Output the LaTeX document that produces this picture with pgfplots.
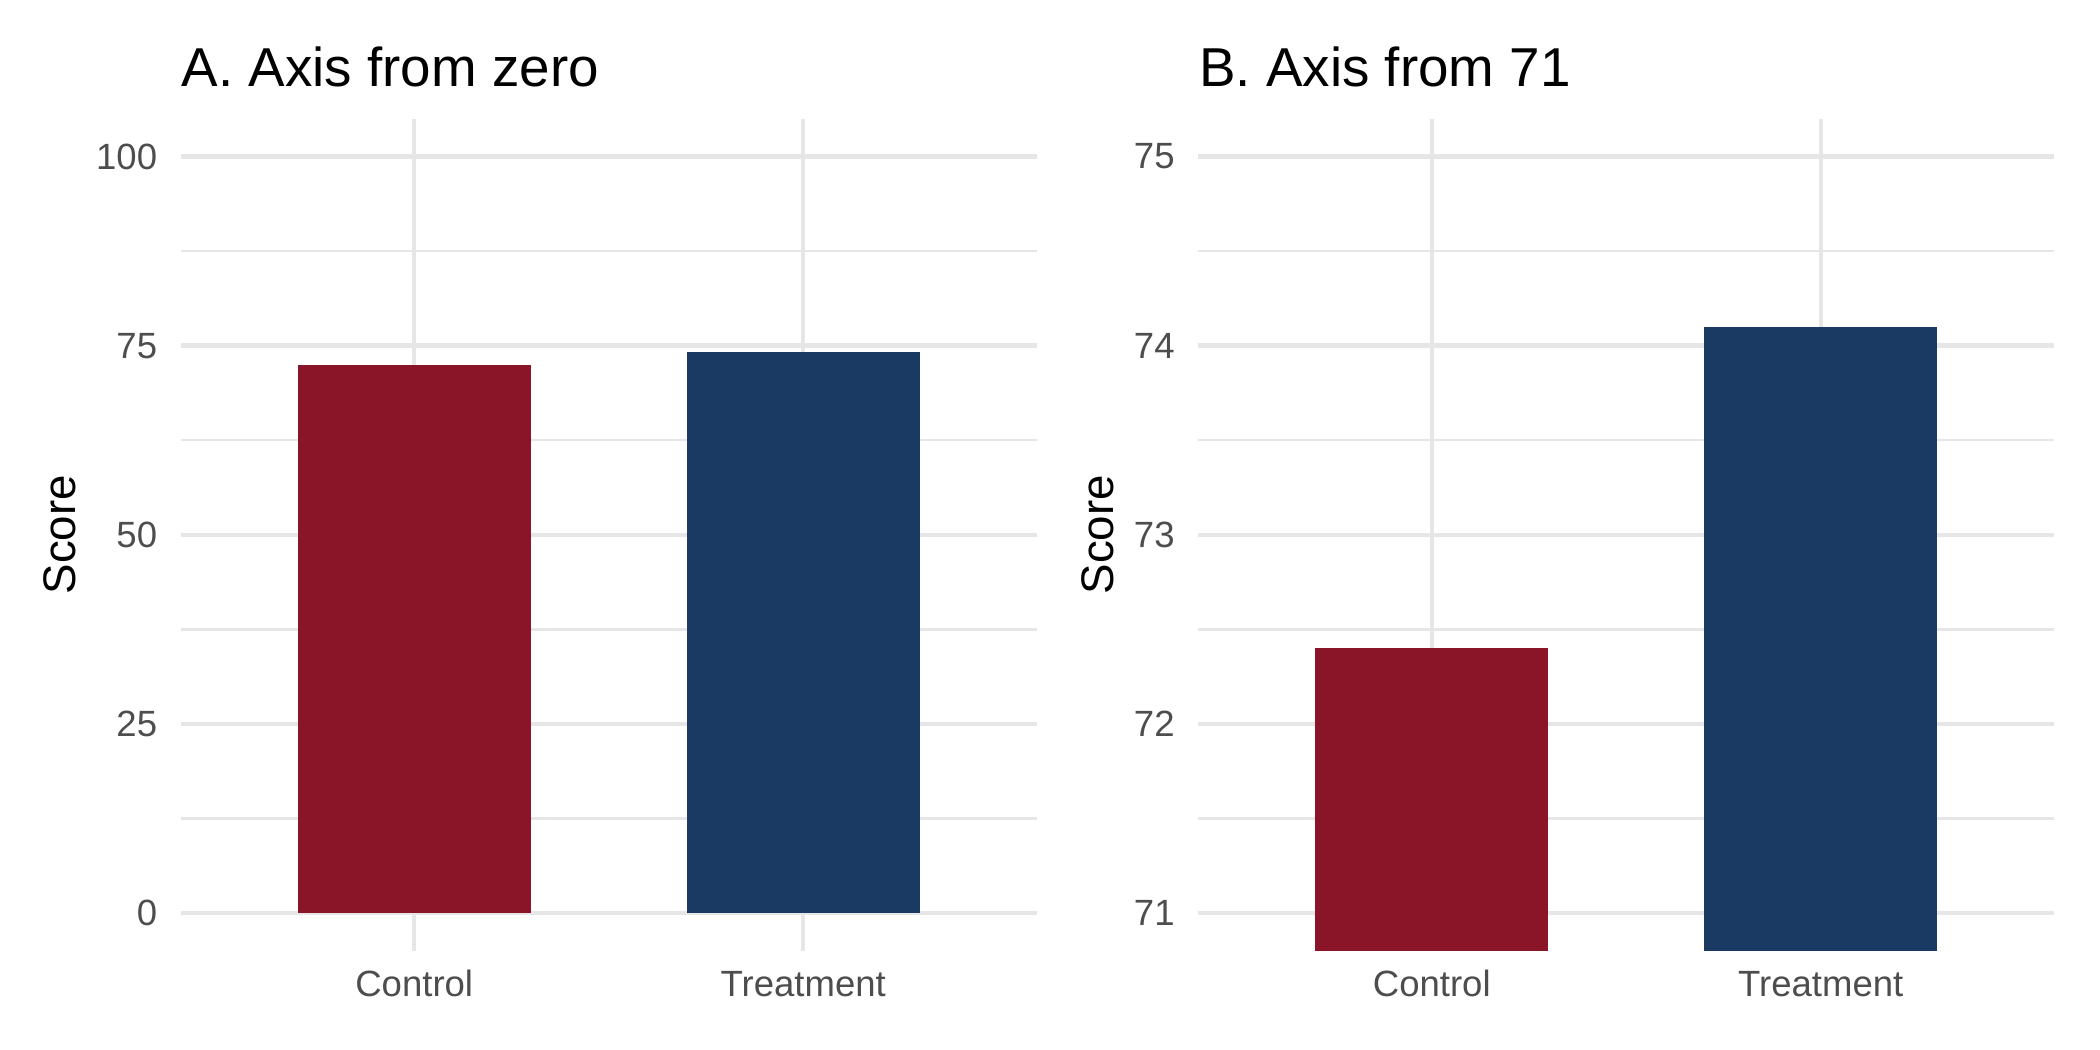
\documentclass[border=0pt]{standalone}
\usepackage{pgfplots}
\pgfplotsset{compat=1.18}
\usepackage{fontspec}
\setmainfont{Liberation Sans}
\definecolor{barred}{RGB}{139,21,40}
\definecolor{barblue}{RGB}{27,58,99}
\definecolor{gridgrey}{RGB}{230,230,230}
\definecolor{ticktext}{RGB}{77,77,77}
\pgfplotsset{
  mypanel/.style={
    scale only axis,
    width=205.4bp, height=199.7bp,
    anchor=south west,
    xmin=0.4, xmax=2.6,
    xtick={1,2}, xticklabels={Control,Treatment},
    axis line style={draw=none},
    major tick length=0pt, minor tick length=0pt,
    xmajorgrids, ymajorgrids, yminorgrids,
    major grid style={gridgrey, line width=1.07bp},
    minor grid style={gridgrey, line width=0.6bp},
    /pgf/number format/assume math mode=true,
    ticklabel style={font=\fontsize{8.8}{10}\selectfont, text=ticktext, inner sep=0pt},
    yticklabel style={anchor=east, xshift=-5.5bp},
    xticklabel style={anchor=base, yshift=-11bp},
    every axis title/.style={at={(axis description cs:0,1)}, anchor=base west, yshift=7.7bp, inner sep=0pt, font=\fontsize{13.2}{15}\selectfont},
    ylabel={Score},
    clip=true,
  }
}
\begin{document}
\begin{tikzpicture}
\useasboundingbox (0,0) rectangle (504bp,252bp);
\begin{axis}[mypanel, at={(43.4bp,23.8bp)},
  title={A. Axis from zero},
  ymin=-5, ymax=105,
  ytick={0,25,50,75,100},
  minor ytick={12.5,37.5,62.5,87.5},
  every axis y label/.style={at={(axis description cs:-0.1412,0.5)}, rotate=90, anchor=center, inner sep=0pt, font=\fontsize{11}{13}\selectfont},
]
\addplot[ybar, bar shift=0pt, bar width=0.6, fill=barred, draw=none] coordinates {(1,72.4)};
\addplot[ybar, bar shift=0pt, bar width=0.6, fill=barblue, draw=none] coordinates {(2,74.1)};
\end{axis}
\begin{axis}[mypanel, at={(287.6bp,23.8bp)},
  title={B. Axis from 71},
  ymin=70.8, ymax=75.2,
  ytick={71,72,73,74,75},
  minor ytick={71.5,72.5,73.5,74.5},
  every axis y label/.style={at={(axis description cs:-0.1178,0.5)}, rotate=90, anchor=center, inner sep=0pt, font=\fontsize{11}{13}\selectfont},
]
\addplot[ybar, bar shift=0pt, bar width=0.6, fill=barred, draw=none] coordinates {(1,72.4)};
\addplot[ybar, bar shift=0pt, bar width=0.6, fill=barblue, draw=none] coordinates {(2,74.1)};
\end{axis}
\end{tikzpicture}
\end{document}
